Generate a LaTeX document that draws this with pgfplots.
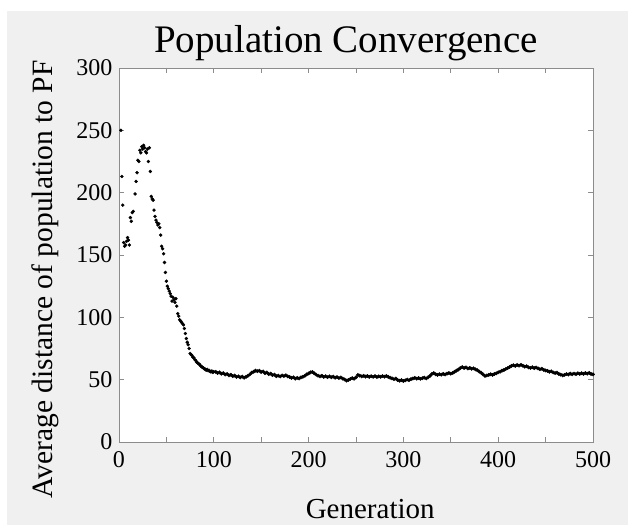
\documentclass[border=0pt]{standalone}
\usepackage{fontspec}
\setmainfont{Liberation Serif}
\usepackage{pgfplots}
\pgfplotsset{compat=1.18}
\definecolor{figbg}{HTML}{F0F0F0}
\definecolor{axgray}{HTML}{8C8C8C}
\begin{document}
\begin{tikzpicture}
\fill[white] (-119bp,-85bp) rectangle (509bp,442bp);
\fill[figbg] (-112bp,-83bp) rectangle (509bp,431bp);
\begin{axis}[
  at={(0,0)}, anchor=south west,
  scale only axis, width=474bp, height=374bp,
  xmin=0, xmax=500, ymin=0, ymax=300,
  axis background/.style={fill=white},
  axis line style={axgray, line width=0.8bp},
  xtick={0,100,...,500}, minor xtick={50,150,...,450},
  ytick={0,50,...,300},
  tick align=inside, major tick length=5bp, minor tick length=5bp,
  every tick/.style={axgray, line width=0.8bp},
  /pgf/number format/assume math mode=true,
  ticklabel style={font=\fontsize{24bp}{28bp}\selectfont},
  xticklabel style={yshift=-6bp},
  yticklabel style={xshift=-3bp},
  title={Population Convergence},
  title style={font=\fontsize{39bp}{44bp}\selectfont, at={(axis description cs:0.479,1.025)}, anchor=base},
  xlabel={Generation},
  xlabel style={font=\fontsize{29bp}{33bp}\selectfont, at={(axis description cs:0.53,-0.178)}, anchor=center},
  ylabel={Average distance of population to PF},
  ylabel style={font=\fontsize{29.5bp}{33bp}\selectfont, at={(axis description cs:-0.156,0.435)}, anchor=center},
]
% early generations
\addplot[only marks, mark=*, mark size=1.5bp, black] coordinates {
(2,250) (3,213) (4,190) (5,160) (6,157) (7,158) (8,161) (9,164) (10,162) (11,158)
(12,180) (13,177) (14,184) (15,185) (17,199) (18,209) (19,216) (20,226)
(21,225) (22,234) (23,232) (24,237) (25,235) (26,238) (27,236) (28,233) (29,232) (30,235)
(31,225) (32,236) (33,217) (34,197) (35,195) (36,194) (37,186) (38,181) (39,178) (40,176)
(41,174) (42,175) (43,172) (44,166) (45,157) (46,155) (47,151) (48,144) (49,136) (50,129)
(51,125) (52,123) (53,121) (54,119) (55,117) (56,113) (57,116) (58,114) (59,112) (60,115)
(61,109) (62,103) (63,101) (64,98) (65,97) (66,96) (67,95) (68,94) (69,91) (70,87)
(71,83) (72,80) (73,78) (74,75) (75,71) (76,70) (77,69.5) (78,68) (79,67.5) (80,66)
(81,65.5) (82,64) (83,63.5) (84,62.6) (85,62.4) (86,61) (87,60.6) (88,59.8) (89,59.5) (90,58.6)
(91,58.4) (92,57.6) (93,58.2) (94,57.1) (95,57.5) (96,56.6) (97,56.2) (98,57) (99,55.8) (100,56.4)
};
% later generations
\addplot[only marks, mark=*, mark size=1.7bp, black] coordinates {
(102,56.3) (104,55.4) (106,55.9) (108,54.8) (110,55.2) (112,54.1) (114,54.6) (116,53.5) (118,53.9) (120,52.8)
(122,53.3) (124,52.2) (126,52.7) (128,51.8) (130,52.4) (132,51.6) (134,52.3) (136,53.1) (138,54.2) (140,55.6)
(142,56.4) (144,57.3) (146,56.8) (148,57.2) (150,56.1) (152,56.6) (154,55.3) (156,55.8) (158,54.4) (160,54.9)
(162,53.6) (164,54.0) (166,52.8) (168,53.3) (170,52.6) (172,53.4) (174,52.9) (176,53.5) (178,52.7) (180,52.2)
(182,51.4) (184,51.9) (186,50.8) (188,51.5) (190,51.0) (192,51.8) (194,52.3) (196,53.1) (198,54.2) (200,55.0)
(202,55.8) (204,56.2) (206,55.1) (208,54.0) (210,53.2) (212,52.6) (214,53.1) (216,52.2) (218,52.8) (220,52.0)
(222,52.7) (224,51.9) (226,52.5) (228,51.6) (230,52.1) (232,51.3) (234,51.8) (236,50.9) (238,50.2) (240,49.3)
(242,49.8) (244,50.6) (246,51.2) (248,50.8) (250,51.9) (252,53.8) (254,53.2) (256,52.6) (258,53.1) (260,52.4)
(262,52.9) (264,52.2) (266,52.8) (268,52.3) (270,52.9) (272,52.1) (274,52.7) (276,52.3) (278,52.9) (280,52.4)
(282,53.0) (284,52.2) (286,51.6) (288,51.0) (290,50.4) (292,50.9) (294,49.7) (296,49.2) (298,49.6) (300,48.9)
(302,49.5) (304,50.1) (306,49.6) (308,50.4) (310,50.9) (312,51.4) (314,50.8) (316,51.3) (318,50.7) (320,51.2)
(322,51.6) (324,51.0) (326,51.8) (328,53.0) (330,54.6) (332,55.2) (334,54.3) (336,53.8) (338,54.4) (340,54.0)
(342,54.7) (344,54.2) (346,54.9) (348,55.3) (350,54.8) (352,55.4) (354,56.3) (356,57.2) (358,58.1) (360,59.3)
(362,60.1) (364,59.4) (366,59.8) (368,59.0) (370,59.5) (372,58.7) (374,59.1) (376,58.3) (378,57.6) (380,56.4)
(382,55.6) (384,54.2) (386,53.0) (388,53.4) (390,53.8) (392,54.3) (394,53.9) (396,54.6) (398,55.1) (400,55.9)
(402,56.4) (404,57.2) (406,57.8) (408,58.6) (410,59.3) (412,60.2) (414,61.0) (416,61.6) (418,61.1) (420,61.8)
(422,61.3) (424,61.9) (426,61.2) (428,60.4) (430,60.8) (432,59.9) (434,59.4) (436,60.0) (438,59.3) (440,59.7)
(442,59.0) (444,58.4) (446,58.8) (448,57.9) (450,57.4) (452,57.0) (454,56.3) (456,56.7) (458,55.8) (460,55.3)
(462,55.6) (464,54.6) (466,54.0) (468,53.4) (470,53.9) (472,54.5) (474,54.1) (476,54.8) (478,54.3) (480,54.9)
(482,54.4) (484,55.1) (486,54.6) (488,55.2) (490,54.7) (492,55.3) (494,54.8) (496,55.4) (498,54.6) (500,54.2)
};
\end{axis}
\pgfresetboundingbox
\useasboundingbox (-119bp,-85bp) rectangle (509bp,442bp);
\end{tikzpicture}
\end{document}
